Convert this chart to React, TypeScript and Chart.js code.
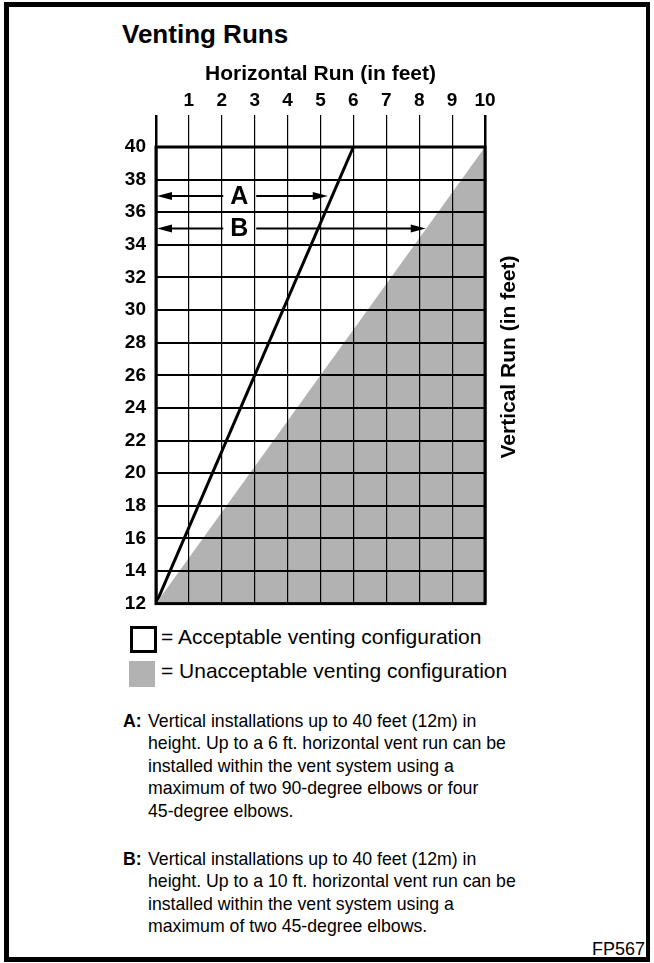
import React, { useEffect, useRef } from 'react';
import { Chart, registerables } from 'chart.js';

Chart.register(...registerables);

// ---- data ----
const xTickLabels = ['', '1', '2', '3', '4', '5', '6', '7', '8', '9', '10'];
const xMin = 0;
const xMax = 10;
const yMin = 12;
const yMax = 40;
const yStep = 2;

// line "A" limit: horizontal run allowed vs vertical run
const limitAX = [0, 6];
const limitAY = [12, 40];
// boundary of unacceptable (shaded) region
const limitBX = [0, 10];
const limitBY = [12, 40];

// arrows A and B
const arrowLabels = ['A', 'B'];
const arrowY = [37, 35];
const arrowStartX = [0.03, 0.03];
const arrowEndX = [5.22, 8.2];
const arrowLabelX = [2.53, 2.53];

const notesA = [
  'Vertical installations up to 40 feet (12m) in',
  'height. Up to a 6 ft. horizontal vent run can be',
  'installed within the vent system using a',
  'maximum of two 90-degree elbows or four',
  '45-degree elbows.',
];
const notesB = [
  'Vertical installations up to 40 feet (12m) in',
  'height. Up to a 10 ft. horizontal vent run can be',
  'installed within the vent system using a',
  'maximum of two 45-degree elbows.',
];

const BOLDF = "'Liberation Sans', Arial, Helvetica, sans-serif";
const SANS = "'Liberation Sans', Arial, Helvetica, sans-serif";
const GREY = '#b2b2b2';

const chartFrame = {
  id: 'chartFrame',
  afterDraw(chart: any) {
    const { ctx, chartArea } = chart;
    ctx.save();
    ctx.strokeStyle = '#000';
    ctx.lineWidth = 3;
    ctx.strokeRect(chartArea.left, chartArea.top, chartArea.right - chartArea.left, chartArea.bottom - chartArea.top);
    ctx.restore();
  },
};

const arrowPlugin = {
  id: 'arrowPlugin',
  afterDraw(chart: any) {
    const { ctx } = chart;
    const xs = chart.scales.x;
    const ys = chart.scales.y;
    ctx.save();
    ctx.strokeStyle = '#000';
    ctx.fillStyle = '#000';
    for (let i = 0; i < arrowLabels.length; i++) {
      const py = ys.getPixelForValue(arrowY[i]);
      const x0 = xs.getPixelForValue(arrowStartX[i]);
      const x1 = xs.getPixelForValue(arrowEndX[i]);
      const lx = xs.getPixelForValue(arrowLabelX[i]);
      const head = 15;
      const hw = 4;
      ctx.lineWidth = 2;
      ctx.beginPath();
      ctx.moveTo(x0 + head - 1, py);
      ctx.lineTo(lx - 16, py);
      ctx.moveTo(lx + 17, py);
      ctx.lineTo(x1 - head + 1, py);
      ctx.stroke();
      ctx.beginPath();
      ctx.moveTo(x0, py);
      ctx.lineTo(x0 + head, py - hw);
      ctx.lineTo(x0 + head, py + hw);
      ctx.closePath();
      ctx.fill();
      ctx.beginPath();
      ctx.moveTo(x1, py);
      ctx.lineTo(x1 - head, py - hw);
      ctx.lineTo(x1 - head, py + hw);
      ctx.closePath();
      ctx.fill();
      ctx.font = `bold 25px ${SANS}`;
      ctx.textAlign = 'center';
      ctx.textBaseline = 'middle';
      ctx.fillText(arrowLabels[i], lx, py + 1);
    }
    ctx.restore();
  },
};

const rightTitle = {
  id: 'rightTitle',
  afterDraw(chart: any) {
    const { ctx, chartArea } = chart;
    ctx.save();
    ctx.translate(chartArea.right + 24, chartArea.top + 210);
    ctx.rotate(-Math.PI / 2);
    ctx.font = `bold 21px ${BOLDF}`;
    ctx.fillStyle = '#000';
    ctx.textAlign = 'center';
    ctx.textBaseline = 'middle';
    ctx.fillText('Vertical Run (in feet)', 0, 0);
    ctx.restore();
  },
};

function VentChart() {
  const ref = useRef<HTMLCanvasElement | null>(null);
  useEffect(() => {
    if (!ref.current) return;
    const chart = new Chart(ref.current, {
      type: 'line',
      data: {
        datasets: [
          {
            label: 'Unacceptable',
            data: limitBX.map((x, i) => ({ x, y: limitBY[i] })),
            borderWidth: 0,
            borderColor: 'rgba(0,0,0,0)',
            backgroundColor: GREY,
            fill: 'start',
            pointRadius: 0,
            tension: 0,
          },
          {
            label: 'Limit A',
            data: limitAX.map((x, i) => ({ x, y: limitAY[i] })),
            borderWidth: 3,
            borderColor: '#000',
            fill: false,
            pointRadius: 0,
            tension: 0,
          },
        ],
      },
      options: {
        animation: false,
        responsive: true,
        maintainAspectRatio: false,
        events: [],
        layout: { padding: { left: 100, top: 55, right: 169, bottom: 21 } },
        plugins: {
          legend: { display: false },
          tooltip: { enabled: false },
          title: { display: false },
        },
        scales: {
          x: {
            type: 'linear',
            position: 'top',
            min: xMin,
            max: xMax,
            afterFit: (s: any) => { s.height = 92; },
            afterBuildTicks: (s: any) => {
              s.ticks = xTickLabels.map((_, i) => ({ value: xMin + i }));
            },
            ticks: {
              callback: (_v: any, i: number) => xTickLabels[i],
              color: '#000',
              font: { family: BOLDF, size: 19, weight: 'bold' },
              padding: 3,
              maxRotation: 0,
              autoSkip: false,
            },
            grid: {
              color: '#000',
              lineWidth: (c: any) => (c.index === 0 || c.index === xTickLabels.length - 1 ? 2.5 : 1.2),
              tickLength: 32,
              drawTicks: true,
              z: 1,
            },
            border: { display: false },
            title: {
              display: true,
              text: 'Horizontal Run (in feet)',
              color: '#000',
              font: { family: BOLDF, size: 21, weight: 'bold' },
              padding: { top: 7, bottom: 0 },
            },
          },
          y: {
            type: 'linear',
            position: 'left',
            min: yMin,
            max: yMax,
            afterFit: (s: any) => { s.width = 56; },
            ticks: {
              stepSize: yStep,
              color: '#000',
              font: { family: BOLDF, size: 19, weight: 'bold' },
              padding: 10,
              autoSkip: false,
            },
            grid: {
              color: '#000',
              lineWidth: 2,
              drawTicks: false,
              z: 1,
            },
            border: { display: false },
          },
        },
      },
      plugins: [chartFrame, arrowPlugin, rightTitle],
    } as any);
    return () => chart.destroy();
  }, []);
  return (
    <div style={{ position: 'absolute', left: 0, top: 0, width: 654, height: 625 }}>
      <canvas ref={ref} />
    </div>
  );
}

export default function App() {
  const noteText: React.CSSProperties = {
    position: 'absolute',
    left: 123,
    fontFamily: SANS,
    fontSize: 17.7,
    lineHeight: '22.5px',
    color: '#000',
    whiteSpace: 'nowrap',
  };
  return (
    <div style={{ position: 'absolute', left: 0, top: 0, width: 654, height: 963, background: '#fff', overflow: 'hidden' }}>
      <div
        style={{
          position: 'absolute', left: 4, top: 2, width: 650 - 4, height: 962 - 2,
          borderStyle: 'solid', borderColor: '#000',
          borderWidth: '5px 4px 5px 5px', boxSizing: 'border-box',
        }}
      />
      <div style={{ position: 'absolute', left: 122, top: 19, fontFamily: SANS, fontWeight: 'bold', fontSize: 26, lineHeight: '30px', color: '#000', whiteSpace: 'nowrap' }}>
        Venting Runs
      </div>
      <VentChart />
      <div style={{ position: 'absolute', left: 130, top: 626, width: 27, height: 27, border: '3px solid #000', boxSizing: 'border-box' }} />
      <div style={{ position: 'absolute', left: 161, top: 625.5, fontFamily: SANS, fontSize: 21, lineHeight: '21px', whiteSpace: 'nowrap', color: '#000' }}>
        = Acceptable venting configuration
      </div>
      <div style={{ position: 'absolute', left: 129, top: 661, width: 26, height: 26, background: GREY }} />
      <div style={{ position: 'absolute', left: 161, top: 660.2, fontFamily: SANS, fontSize: 21, lineHeight: '21px', whiteSpace: 'nowrap', color: '#000' }}>
        = Unacceptable venting configuration
      </div>
      <div style={{ ...noteText, top: 709.5 }}>
        {notesA.map((t, i) => (
          <div key={i} style={{ paddingLeft: 25, position: 'relative' }}>
            {i === 0 && <span style={{ position: 'absolute', left: 0, fontWeight: 'bold' }}>A:</span>}
            {t}
          </div>
        ))}
      </div>
      <div style={{ ...noteText, top: 847.5 }}>
        {notesB.map((t, i) => (
          <div key={i} style={{ paddingLeft: 25, position: 'relative' }}>
            {i === 0 && <span style={{ position: 'absolute', left: 0, fontWeight: 'bold' }}>B:</span>}
            {t}
          </div>
        ))}
      </div>
      <div style={{ position: 'absolute', right: 654 - 645, top: 938, fontFamily: SANS, fontSize: 18, lineHeight: '22px', color: '#000' }}>
        FP567
      </div>
    </div>
  );
}
